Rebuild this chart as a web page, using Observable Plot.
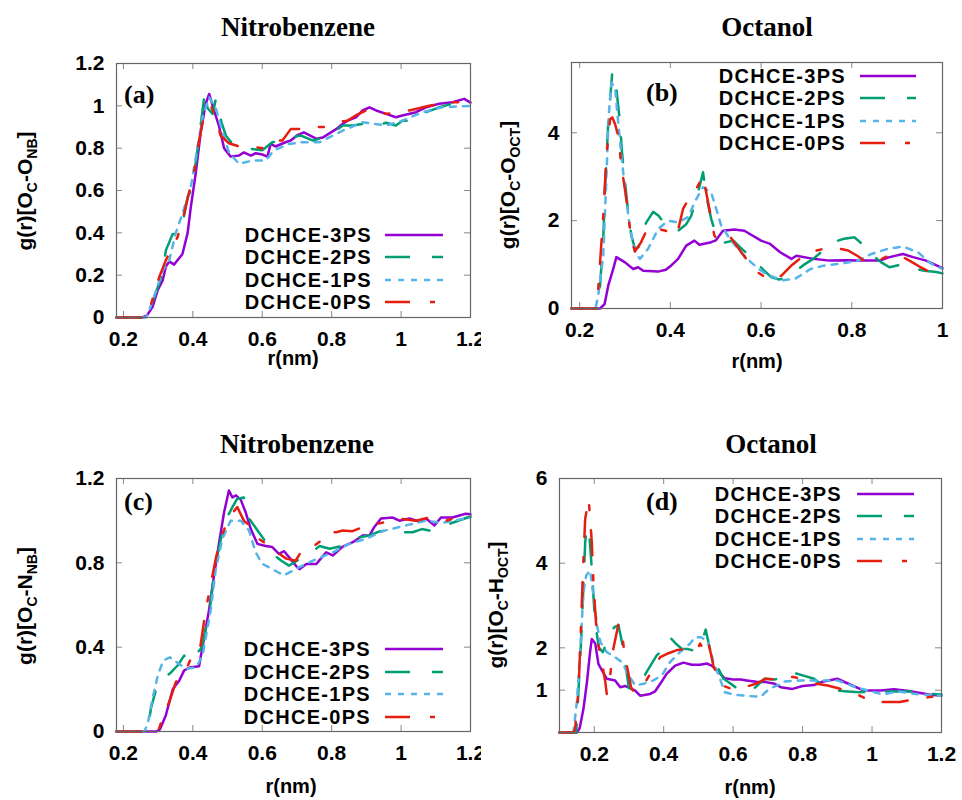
<!DOCTYPE html>
<html><head><meta charset="utf-8">
<script src="https://cdn.jsdelivr.net/npm/d3@7"></script>
<script src="https://cdn.jsdelivr.net/npm/@observablehq/plot@0.6"></script>
<style>
body{margin:0;background:#fff;}
#chart{position:relative;width:962px;height:800px;background:#fff;overflow:hidden;font-family:"Liberation Sans",Arial,sans-serif;}
.pl{position:absolute;}
.title{position:absolute;font-family:"Liberation Serif","Times New Roman",serif;font-weight:bold;font-size:27px;transform:translate(-50%,-50%);white-space:nowrap;}
.plab{position:absolute;font-family:"Liberation Serif","Times New Roman",serif;font-weight:bold;font-size:26px;transform:translate(0,-50%);line-height:1;}
.xlab{position:absolute;font-weight:bold;font-size:20px;transform:translate(-50%,-50%);white-space:nowrap;}
.ylab{position:absolute;font-weight:bold;font-size:21px;transform:translate(-50%,-50%) rotate(-90deg);white-space:nowrap;}
.ylab sub{font-size:14px;vertical-align:-5px;}
.ltxt{position:absolute;font-weight:bold;font-size:20px;letter-spacing:1.3px;transform:translate(0,-50%);white-space:nowrap;line-height:18px;height:18px;}
</style>
</head><body>
<div id="chart"></div>
<script>
// ---- series names ----
const seriesNames = ["DCHCE-3PS","DCHCE-2PS","DCHCE-1PS","DCHCE-0PS"];
const titles = ["Nitrobenzene","Octanol","Nitrobenzene","Octanol"];
const panelTags = ["(a)","(b)","(c)","(d)"];
const xLabel = "r(nm)";
const yLabels = ["g(r)[O<sub>C</sub>-O<sub>NB</sub>]","g(r)[O<sub>C</sub>-O<sub>OCT</sub>]","g(r)[O<sub>C</sub>-N<sub>NB</sub>]","g(r)[O<sub>C</sub>-H<sub>OCT</sub>]"];

// ---- tick values ----
const xTicksAC = [0.2,0.4,0.6,0.8,1,1.2];
const xTicksB = [0.2,0.4,0.6,0.8,1];
const xTicksD = [0.2,0.4,0.6,0.8,1,1.2];
const yTicksA = [0,0.2,0.4,0.6,0.8,1,1.2];
const yTicksB = [0,2,4];
const yTicksC = [0,0.4,0.8,1.2];
const yTicksD = [1,2,4,6];

// ---- (a) O_C - O_NB ----
const a3PS = [[0.18,0],[0.255,0],[0.268,0.01],[0.284,0.05],[0.299,0.13],[0.313,0.175],[0.322,0.24],[0.332,0.265],[0.346,0.25],[0.37,0.30],[0.385,0.40],[0.394,0.52],[0.409,0.69],[0.423,0.88],[0.437,1.01],[0.447,1.056],[0.461,0.98],[0.476,0.90],[0.49,0.80],[0.509,0.76],[0.533,0.765],[0.547,0.78],[0.567,0.765],[0.581,0.776],[0.60,0.77],[0.615,0.76],[0.624,0.82],[0.638,0.808],[0.667,0.828],[0.682,0.836],[0.70,0.86],[0.72,0.875],[0.755,0.845],[0.774,0.85],[0.813,0.89],[0.832,0.915],[0.846,0.93],[0.87,0.946],[0.889,0.978],[0.909,0.993],[0.928,0.978],[0.957,0.962],[0.985,0.946],[1.004,0.954],[1.043,0.97],[1.072,0.993],[1.11,1.01],[1.148,1.017],[1.182,1.033],[1.2,1.015]];
const a2PS = [[0.18,0],[0.26,0],[0.275,0.03],[0.292,0.112],[0.313,0.206],[0.322,0.316],[0.342,0.395],[0.356,0.395],[0.37,0.44],[0.385,0.57],[0.399,0.615],[0.418,0.85],[0.435,1.07],[0.442,0.99],[0.457,0.962],[0.466,1.03],[0.483,0.92],[0.495,0.86],[0.509,0.83],[0.538,0.81],[0.567,0.797],[0.6,0.79],[0.629,0.828],[0.658,0.836],[0.682,0.85],[0.71,0.86],[0.746,0.836],[0.774,0.85],[0.81,0.88],[0.832,0.907],[0.86,0.907],[0.889,0.915],[0.928,0.907],[0.957,0.92],[0.985,0.907],[1.004,0.93],[1.033,0.93],[1.072,0.97],[1.11,0.993],[1.148,1.01],[1.186,1.017],[1.2,1.02]];
const a1PS = [[0.18,0],[0.265,0],[0.274,0.033],[0.295,0.13],[0.313,0.222],[0.332,0.27],[0.351,0.40],[0.37,0.49],[0.394,0.615],[0.413,0.80],[0.428,0.946],[0.447,1.04],[0.466,0.99],[0.485,0.88],[0.504,0.78],[0.533,0.726],[0.572,0.742],[0.61,0.742],[0.634,0.79],[0.677,0.82],[0.715,0.828],[0.765,0.828],[0.832,0.883],[0.889,0.922],[0.957,0.907],[1.004,0.93],[1.062,0.97],[1.119,0.993],[1.2,1.0]];
const a0PS = [[0.18,0],[0.268,0],[0.284,0.088],[0.303,0.19],[0.322,0.27],[0.34,0.33],[0.356,0.38],[0.37,0.458],[0.404,0.694],[0.418,0.836],[0.432,0.954],[0.452,1.0],[0.466,0.94],[0.48,0.86],[0.504,0.823],[0.533,0.808],[0.567,0.808],[0.6,0.80],[0.629,0.836],[0.658,0.836],[0.682,0.89],[0.715,0.89],[0.746,0.90],[0.78,0.90],[0.813,0.922],[0.846,0.93],[0.875,0.96],[0.909,0.985],[0.957,0.962],[1.024,0.978],[1.081,1.0],[1.129,1.015],[1.2,1.02]];

// ---- (b) O_C - O_OCT ----
const b3PS = [[0.182,0],[0.245,0],[0.255,0.1],[0.263,0.52],[0.274,0.90],[0.281,1.17],[0.30,1.05],[0.318,0.90],[0.329,0.94],[0.34,0.86],[0.373,0.84],[0.39,0.88],[0.402,0.98],[0.417,1.13],[0.435,1.43],[0.453,1.545],[0.464,1.45],[0.49,1.51],[0.50,1.55],[0.516,1.77],[0.541,1.80],[0.563,1.77],[0.60,1.545],[0.62,1.47],[0.642,1.28],[0.667,1.13],[0.678,1.2],[0.715,1.13],[0.75,1.09],[0.788,1.1],[0.825,1.09],[0.862,1.09],[0.883,1.17],[0.913,1.24],[0.935,1.17],[0.964,1.09],[1.0,0.92]];
const b2PS = [[0.182,0],[0.238,0],[0.245,0.52],[0.252,1.58],[0.256,2.72],[0.263,4.23],[0.272,5.39],[0.281,4.99],[0.289,4.23],[0.293,3.6],[0.30,2.87],[0.307,2.19],[0.314,1.66],[0.322,1.36],[0.33,1.4],[0.34,1.8],[0.347,1.96],[0.362,2.2],[0.374,2.11],[0.39,1.9],[0.405,1.8],[0.417,1.77],[0.435,1.92],[0.446,2.11],[0.46,2.6],[0.472,3.1],[0.479,2.57],[0.49,2.04],[0.503,1.6],[0.52,1.5],[0.539,1.545],[0.554,1.39],[0.575,1.2],[0.59,1.05],[0.605,0.88],[0.623,0.71],[0.64,0.66],[0.66,0.72],[0.678,0.86],[0.695,1.0],[0.715,1.13],[0.74,1.35],[0.759,1.51],[0.78,1.58],[0.806,1.62],[0.825,1.45],[0.847,1.2],[0.865,1.05],[0.883,0.94],[0.91,1.0],[0.938,0.9],[0.96,0.86],[0.986,0.83],[1.0,0.8]];
const b1PS = [[0.182,0],[0.235,0],[0.241,0.3],[0.252,1.2],[0.258,2.72],[0.264,4.39],[0.27,5.14],[0.278,5.03],[0.285,4.23],[0.292,3.48],[0.30,2.72],[0.311,1.81],[0.322,1.28],[0.333,1.13],[0.351,1.36],[0.373,1.81],[0.395,2.0],[0.417,1.96],[0.439,2.08],[0.457,2.49],[0.472,2.76],[0.49,2.64],[0.501,2.27],[0.512,1.89],[0.534,1.545],[0.556,1.28],[0.578,1.05],[0.595,0.9],[0.61,0.79],[0.645,0.64],[0.675,0.675],[0.709,0.9],[0.74,0.98],[0.777,1.02],[0.814,1.09],[0.843,1.24],[0.88,1.36],[0.913,1.41],[0.946,1.28],[0.975,1.02],[1.0,0.9]];
const b0PS = [[0.182,0],[0.238,0],[0.241,0.45],[0.252,2.11],[0.259,3.48],[0.267,4.31],[0.272,4.35],[0.278,4.2],[0.285,3.93],[0.292,3.25],[0.303,2.49],[0.311,1.81],[0.318,1.43],[0.322,1.3],[0.335,1.5],[0.347,1.77],[0.354,1.85],[0.365,1.8],[0.373,1.81],[0.39,1.77],[0.406,1.65],[0.415,1.7],[0.428,2.27],[0.441,2.5],[0.453,2.64],[0.472,3.02],[0.479,2.64],[0.486,2.27],[0.497,1.66],[0.505,1.55],[0.522,1.6],[0.53,1.66],[0.555,1.3],[0.587,0.86],[0.62,0.64],[0.645,0.75],[0.667,0.98],[0.685,1.13],[0.703,1.28],[0.735,1.35],[0.759,1.39],[0.792,1.32],[0.812,1.2],[0.832,1.05],[0.86,1.1],[0.887,1.23],[0.9,1.24],[0.927,1.09],[0.95,0.95],[0.98,0.79],[1.0,0.75]];

// ---- (c) O_C - N_NB ----
const c3PS = [[0.18,0],[0.295,0],[0.305,0.01],[0.322,0.076],[0.342,0.2],[0.361,0.242],[0.375,0.29],[0.394,0.305],[0.418,0.31],[0.432,0.44],[0.447,0.58],[0.461,0.74],[0.476,0.90],[0.49,1.04],[0.504,1.143],[0.514,1.11],[0.524,1.12],[0.538,1.10],[0.552,1.04],[0.567,0.96],[0.586,0.89],[0.61,0.88],[0.629,0.875],[0.648,0.843],[0.663,0.855],[0.677,0.827],[0.70,0.78],[0.707,0.77],[0.727,0.795],[0.756,0.795],[0.784,0.85],[0.803,0.835],[0.832,0.877],[0.861,0.898],[0.889,0.93],[0.909,0.93],[0.923,0.97],[0.942,1.01],[0.976,1.015],[0.995,1.0],[1.024,1.01],[1.052,0.996],[1.072,1.01],[1.096,0.977],[1.115,1.015],[1.148,1.015],[1.186,1.033],[1.2,1.03]];
const c2PS = [[0.18,0],[0.27,0],[0.279,0.108],[0.294,0.2],[0.315,0.25],[0.337,0.28],[0.356,0.313],[0.375,0.36],[0.39,0.33],[0.405,0.36],[0.423,0.392],[0.432,0.44],[0.45,0.6],[0.466,0.80],[0.485,0.945],[0.5,1.02],[0.514,1.064],[0.528,1.104],[0.547,1.11],[0.562,1.01],[0.59,0.945],[0.61,0.9],[0.629,0.843],[0.655,0.81],[0.677,0.787],[0.71,0.82],[0.743,0.85],[0.765,0.88],[0.794,0.867],[0.83,0.88],[0.861,0.915],[0.909,0.93],[0.94,0.95],[0.966,0.953],[1.0,0.945],[1.033,0.945],[1.06,0.96],[1.081,0.953],[1.115,0.97],[1.148,0.99],[1.2,1.02]];
const c1PS = [[0.18,0],[0.26,0],[0.27,0.036],[0.283,0.15],[0.299,0.266],[0.315,0.337],[0.334,0.352],[0.36,0.32],[0.382,0.297],[0.41,0.305],[0.428,0.36],[0.452,0.582],[0.466,0.77],[0.485,0.914],[0.509,1.0],[0.538,1.0],[0.562,0.953],[0.581,0.85],[0.60,0.795],[0.629,0.77],[0.662,0.74],[0.707,0.78],[0.746,0.81],[0.803,0.85],[0.851,0.89],[0.899,0.914],[0.946,0.95],[0.995,0.97],[1.072,1.0],[1.119,0.99],[1.2,1.015]];
const c0PS = [[0.18,0],[0.3,0],[0.313,0.068],[0.332,0.14],[0.351,0.234],[0.37,0.28],[0.385,0.31],[0.394,0.345],[0.409,0.352],[0.42,0.384],[0.432,0.52],[0.44,0.6],[0.466,0.82],[0.48,0.914],[0.504,1.017],[0.528,1.064],[0.547,1.0],[0.562,0.98],[0.59,0.914],[0.62,0.88],[0.638,0.855],[0.669,0.82],[0.696,0.81],[0.717,0.866],[0.74,0.87],[0.765,0.9],[0.784,0.945],[0.813,0.945],[0.832,0.953],[0.86,0.95],[0.899,0.977],[0.946,0.99],[0.995,1.01],[1.043,1.0],[1.081,1.015],[1.13,1.0],[1.176,1.025],[1.2,1.03]];

// ---- (d) O_C - H_OCT ----
const d3PS = [[0.1,0],[0.15,0],[0.158,0.1],[0.169,0.56],[0.179,1.19],[0.188,1.9],[0.193,2.21],[0.203,2.1],[0.212,1.62],[0.222,1.47],[0.236,1.27],[0.26,1.23],[0.275,1.07],[0.289,1.1],[0.308,1.03],[0.318,0.99],[0.332,0.87],[0.361,0.91],[0.375,0.97],[0.39,1.15],[0.409,1.39],[0.433,1.58],[0.457,1.65],[0.481,1.6],[0.505,1.6],[0.524,1.63],[0.538,1.58],[0.553,1.47],[0.576,1.28],[0.60,1.25],[0.622,1.25],[0.639,1.23],[0.667,1.2],[0.694,1.19],[0.72,1.15],[0.737,1.07],[0.771,1.03],[0.8,1.1],[0.833,1.12],[0.857,1.2],[0.9,1.27],[0.943,1.11],[0.977,0.99],[1.025,0.99],[1.063,1.02],[1.106,0.98],[1.164,0.9],[1.2,0.87]];
const d2PS = [[0.1,0],[0.148,0],[0.155,1.03],[0.162,2.13],[0.169,3.48],[0.174,4.5],[0.179,4.85],[0.186,4.66],[0.193,3.87],[0.2,2.92],[0.208,2.29],[0.214,2.0],[0.225,1.9],[0.235,2.1],[0.246,2.37],[0.26,2.5],[0.27,2.53],[0.28,2.13],[0.29,1.6],[0.3,1.05],[0.315,1.0],[0.335,1.2],[0.351,1.43],[0.38,1.82],[0.39,1.9],[0.405,2.1],[0.418,2.25],[0.435,2.1],[0.452,1.98],[0.47,1.97],[0.49,1.93],[0.51,2.15],[0.521,2.43],[0.533,1.98],[0.552,1.6],[0.572,1.27],[0.585,1.2],[0.61,1.05],[0.63,0.95],[0.642,0.97],[0.665,1.07],[0.69,1.27],[0.72,1.25],[0.75,1.35],[0.766,1.43],[0.8,1.35],[0.833,1.27],[0.86,1.1],[0.895,0.99],[0.93,0.97],[0.962,0.95],[1.03,0.97],[1.11,0.97],[1.13,0.93],[1.2,0.9]];
const d1PS = [[0.1,0],[0.14,0],[0.15,0.72],[0.16,1.98],[0.169,3.32],[0.177,3.71],[0.188,3.83],[0.198,3.24],[0.208,2.53],[0.218,2.13],[0.236,1.9],[0.26,1.78],[0.28,1.66],[0.299,1.35],[0.318,1.11],[0.342,1.15],[0.37,1.23],[0.395,1.35],[0.418,1.66],[0.447,1.9],[0.476,2.1],[0.49,2.25],[0.507,2.25],[0.528,2.15],[0.543,1.66],[0.562,1.27],[0.576,0.95],[0.6,0.9],[0.632,0.87],[0.665,0.85],[0.68,0.85],[0.704,1.03],[0.737,1.15],[0.745,1.2],[0.785,1.23],[0.84,1.23],[0.9,1.23],[0.953,1.07],[1.03,0.9],[1.076,0.97],[1.133,0.9],[1.2,0.87]];
const d0PS = [[0.1,0],[0.14,0],[0.145,0.087],[0.155,1.03],[0.162,2.53],[0.167,3.71],[0.174,5.05],[0.184,5.52],[0.193,4.5],[0.198,3.48],[0.205,2.61],[0.212,2.06],[0.222,1.66],[0.232,1.19],[0.236,0.91],[0.246,1.35],[0.255,1.98],[0.27,2.57],[0.28,2.37],[0.287,1.86],[0.294,1.58],[0.306,1.07],[0.315,0.95],[0.33,1.0],[0.347,1.19],[0.375,1.58],[0.39,1.78],[0.41,1.86],[0.44,1.95],[0.476,1.98],[0.495,1.94],[0.505,2.1],[0.515,1.95],[0.527,2.17],[0.536,1.86],[0.543,1.58],[0.565,1.15],[0.572,1.1],[0.6,1.02],[0.632,1.07],[0.665,1.15],[0.694,1.27],[0.73,1.25],[0.761,1.31],[0.775,1.31],[0.809,1.23],[0.84,1.15],[0.872,1.11],[0.9,1.05],[0.943,0.95],[0.97,0.85],[1.0,0.72],[1.04,0.72],[1.08,0.72],[1.12,0.78],[1.16,0.83],[1.2,0.87]];

// ---- styles ----
const colors = ["#9400D3","#009E73","#56B4E9","#E51E10"];
const dashes = [null,"25,22","6,7","25,20,5,20"];

const panels = [
  {left:0,   top:40,  height:350, mL:116, mR:11, mT:23, mB:73, xd:[0.18,1.2],  yd:[0,1.2], xt:xTicksAC, yt:yTicksA, data:[a3PS,a2PS,a1PS,a0PS],
   title:[298,27], tag:[124,95], xlab:[293,358], ylab:[26,191], leg:{tr:372, x1:385, x2:443, y0:234.5}},
  {left:481, top:40,  height:350, mL:90,  mR:20, mT:22, mB:82, xd:[0.182,1.0], yd:[0,5.6], xt:xTicksB,  yt:yTicksB, data:[b3PS,b2PS,b1PS,b0PS],
   title:[767,27], tag:[646,93], xlab:[757,361], ylab:[509,185], leg:{tr:846, x1:860, x2:916, y0:75.5}},
  {left:0,   top:455, height:345, mL:116, mR:11, mT:23, mB:69, xd:[0.18,1.2],  yd:[0,1.2], xt:xTicksAC, yt:yTicksC, data:[c3PS,c2PS,c1PS,c0PS],
   title:[297,444], tag:[124,502], xlab:[291,786], ylab:[26,606], leg:{tr:371, x1:385, x2:443, y0:649}},
  {left:481, top:455, height:345, mL:78,  mR:21, mT:23, mB:68, xd:[0.1,1.2],   yd:[0,6],   xt:xTicksD,  yt:yTicksD, data:[d3PS,d2PS,d1PS,d0PS],
   title:[771,444], tag:[646,502], xlab:[750,787], ylab:[497,605], leg:{tr:842, x1:857, x2:914, y0:493.5}}
];

const chart = document.getElementById("chart");
const W = 481;

function addDiv(cls, html, x, y){
  const el = document.createElement("div");
  el.className = cls; el.innerHTML = html;
  el.style.left = x + "px"; el.style.top = y + "px";
  chart.appendChild(el); return el;
}

panels.forEach((p, k) => {
  const pw = W - p.mL - p.mR, ph = p.height - p.mT - p.mB;
  const tickStroke = "#888";
  const marks = [
    Plot.tickX(p.xt, {x: v => v, stroke: tickStroke, strokeWidth: 1, insetTop: ph - 6}),
    Plot.tickX(p.xt, {x: v => v, stroke: tickStroke, strokeWidth: 1, insetBottom: ph - 6}),
    Plot.tickY(p.yt, {y: v => v, stroke: tickStroke, strokeWidth: 1, insetLeft: pw - 6}),
    Plot.tickY(p.yt, {y: v => v, stroke: tickStroke, strokeWidth: 1, insetRight: pw - 6}),
    Plot.axisX(p.xt, {tickSize: 0, tickPadding: 14, tickFormat: v => String(v), label: null, fontSize: 21, fontWeight: "bold"}),
    Plot.axisY(p.yt, {tickSize: 0, tickPadding: 12, tickFormat: v => String(v), label: null, fontSize: 21, fontWeight: "bold"}),
    ...p.data.map((ser, i) => Plot.line(ser, {x: v => v[0], y: v => v[1], stroke: colors[i], strokeWidth: 2.5,
      strokeDasharray: dashes[i] || undefined, strokeLinejoin: "round"})),
    Plot.frame({stroke: "#666", strokeWidth: 1.2})
  ];
  const svg = Plot.plot({
    width: W, height: p.height,
    marginLeft: p.mL, marginRight: p.mR, marginTop: p.mT, marginBottom: p.mB,
    x: {domain: p.xd}, y: {domain: p.yd},
    style: {fontFamily: "'Liberation Sans', Arial, sans-serif", fontWeight: "bold", background: "white", color: "black", overflow: "visible"},
    marks
  });
  const wrap = document.createElement("div");
  wrap.className = "pl";
  wrap.style.left = p.left + "px"; wrap.style.top = p.top + "px";
  wrap.appendChild(svg);
  chart.appendChild(wrap);
});

panels.forEach((p, k) => {
  addDiv("title", titles[k], p.title[0], p.title[1]);
  addDiv("plab", panelTags[k], p.tag[0], p.tag[1]);
  addDiv("xlab", xLabel, p.xlab[0], p.xlab[1]);
  addDiv("ylab", yLabels[k], p.ylab[0], p.ylab[1]);
  seriesNames.forEach((name, i) => {
    const y = p.leg.y0 + i * 22.5;
    const t = document.createElement("div");
    t.className = "ltxt"; t.textContent = name;
    t.style.right = (962 - p.leg.tr) + "px"; t.style.top = y + "px";
    chart.appendChild(t);
    const ns = "http://www.w3.org/2000/svg";
    const s = document.createElementNS(ns, "svg");
    const len = p.leg.x2 - p.leg.x1;
    s.setAttribute("width", len); s.setAttribute("height", 8);
    s.style.position = "absolute"; s.style.left = p.leg.x1 + "px"; s.style.top = (y - 4) + "px";
    const ln = document.createElementNS(ns, "line");
    ln.setAttribute("x1", 0); ln.setAttribute("x2", len); ln.setAttribute("y1", 4); ln.setAttribute("y2", 4);
    ln.setAttribute("stroke", colors[i]); ln.setAttribute("stroke-width", 2.5);
    if (dashes[i]) ln.setAttribute("stroke-dasharray", dashes[i]);
    s.appendChild(ln);
    chart.appendChild(s);
  });
});
</script>
</body></html>
